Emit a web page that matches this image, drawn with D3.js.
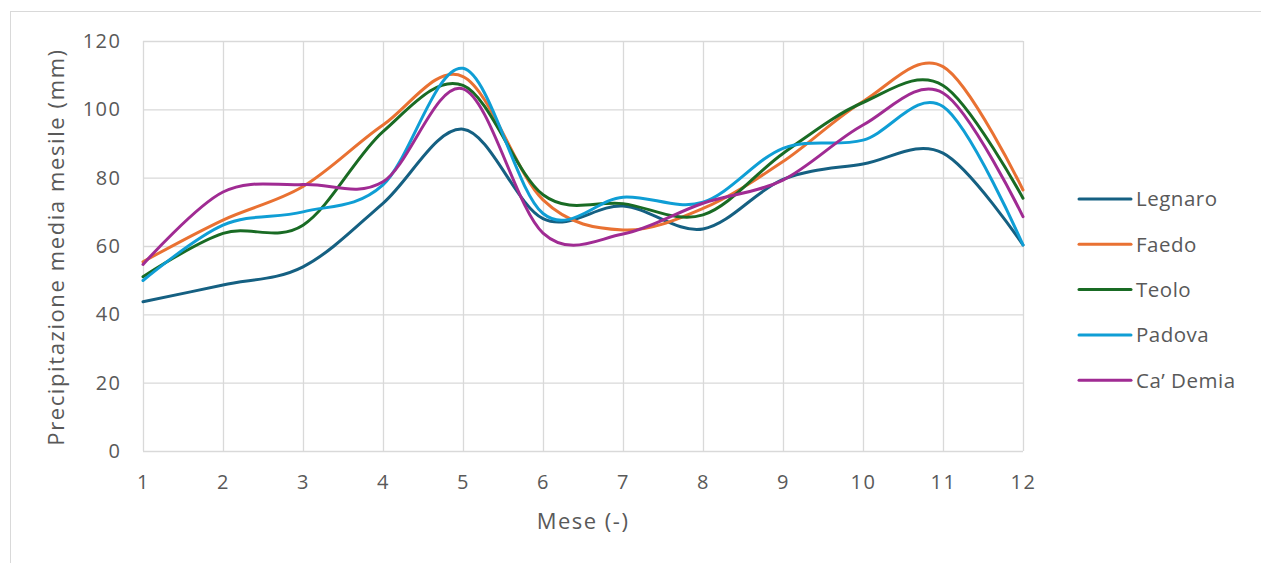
<!DOCTYPE html>
<html>
<head>
<meta charset="utf-8">
<script src="https://cdn.jsdelivr.net/npm/d3@7"></script>
<style>
  html, body { margin: 0; padding: 0; background: #fff; }
  svg { display: block; font-family: "Open Sans", "Noto Sans", sans-serif; }
</style>
</head>
<body>
<svg id="chart" width="1261" height="563"></svg>
<script>
// Average monthly precipitation (mm) per station
const months = [1, 2, 3, 4, 5, 6, 7, 8, 9, 10, 11, 12];
const stations = ["Legnaro", "Faedo", "Teolo", "Padova", "Ca\u2019 Demia"];
const legnaro = [43.7, 48.6, 53.9, 72.5, 94.2, 68.0, 71.7, 65.0, 79.5, 84.0, 87.2, 60.3];
const faedo   = [55.4, 67.6, 77.4, 95.4, 109.6, 73.5, 64.7, 71.0, 84.7, 102.3, 112.5, 76.4];
const teolo   = [51.0, 63.7, 66.1, 93.5, 107.0, 75.0, 72.4, 69.1, 87.1, 102.0, 107.0, 74.0];
const padova  = [49.9, 66.1, 70.0, 77.9, 112.0, 69.5, 74.3, 72.8, 88.6, 91.0, 100.8, 60.3];
const cademia = [54.6, 75.8, 78.0, 78.8, 106.0, 63.8, 63.5, 72.5, 79.3, 95.4, 104.8, 68.6];
const yTicks = [0, 20, 40, 60, 80, 100, 120];
const colors = ["#156082", "#E97132", "#196B24", "#0F9ED5", "#A02B93"];

const seriesValues = [legnaro, faedo, teolo, padova, cademia];

const svg = d3.select("#chart");
const W = 1261, H = 563;
const plot = { left: 143, right: 1023, top: 41, bottom: 451 };

// Outer chart frame
svg.append("rect")
  .attr("x", 10.5).attr("y", 11.5)
  .attr("width", W + 20).attr("height", H + 20)
  .attr("fill", "#fff").attr("stroke", "#d9d9d9").attr("stroke-width", 1);

const x = d3.scaleLinear().domain([1, 12]).range([plot.left, plot.right]);
const y = d3.scaleLinear().domain([0, 120]).range([plot.bottom, plot.top]);

const textColor = "#595959";
const gridColor = "#d9d9d9";

// Horizontal gridlines
svg.append("g")
  .attr("transform", `translate(${plot.left},0)`)
  .call(d3.axisLeft(y).tickValues(yTicks).tickSize(-(plot.right - plot.left)).tickFormat(""))
  .call(g => g.select(".domain").remove())
  .call(g => g.selectAll("line").attr("stroke", gridColor).attr("stroke-width", 1.3));

// Vertical gridlines
svg.append("g")
  .attr("transform", `translate(0,${plot.bottom})`)
  .call(d3.axisBottom(x).tickValues(months).tickSize(-(plot.bottom - plot.top)).tickFormat(""))
  .call(g => g.select(".domain").remove())
  .call(g => g.selectAll("line").attr("stroke", gridColor).attr("stroke-width", 1.3));

// Y tick labels
svg.append("g")
  .attr("transform", `translate(${plot.left},0)`)
  .call(d3.axisLeft(y).tickValues(yTicks).tickSize(0).tickPadding(21.5))
  .call(g => g.select(".domain").remove())
  .call(g => g.selectAll("text").attr("fill", textColor).style("font-size", "20px")
    .style("letter-spacing", "1.5px")
    .style("font-family", "'Open Sans', sans-serif"));

// X tick labels
svg.append("g")
  .attr("transform", `translate(0,${plot.bottom})`)
  .call(d3.axisBottom(x).tickValues(months).tickSize(0).tickPadding(24))
  .call(g => g.select(".domain").remove())
  .call(g => g.selectAll("text").attr("fill", textColor).style("font-size", "20px")
    .style("letter-spacing", "1.5px")
    .style("font-family", "'Open Sans', sans-serif"));

// Axis titles
svg.append("text")
  .attr("x", (plot.left + plot.right) / 2).attr("y", 529)
  .attr("text-anchor", "middle").attr("fill", textColor)
  .style("font-size", "22px").style("letter-spacing", "1.5px")
  .text("Mese (-)");

svg.append("text")
  .attr("transform", `translate(64,${(plot.top + plot.bottom) / 2 + 1}) rotate(-90)`)
  .attr("text-anchor", "middle").attr("fill", textColor)
  .style("font-size", "22px").style("letter-spacing", "1.6px")
  .text("Precipitazione media mesile (mm)");

// Smoothed series lines
const line = d3.line()
  .x((d, i) => x(months[i]))
  .y(d => y(d))
  .curve(d3.curveCatmullRom.alpha(0));

svg.append("g").selectAll("path")
  .data(seriesValues)
  .join("path")
  .attr("d", d => line(d))
  .attr("fill", "none")
  .attr("stroke", (d, i) => colors[i])
  .attr("stroke-width", 3)
  .attr("stroke-linecap", "round")
  .attr("stroke-linejoin", "round");

// Legend
const legend = svg.append("g").attr("transform", "translate(1079,199)");
const item = legend.selectAll("g")
  .data(stations)
  .join("g")
  .attr("transform", (d, i) => `translate(0,${i * 45.3})`);
item.append("line")
  .attr("x1", 0).attr("x2", 52).attr("y1", 0).attr("y2", 0)
  .attr("stroke", (d, i) => colors[i]).attr("stroke-width", 3)
  .attr("stroke-linecap", "round");
item.append("text")
  .attr("x", 57).attr("y", 0).attr("dy", "0.36em")
  .attr("fill", textColor).style("font-size", "20.5px")
  .style("letter-spacing", "0.5px")
  .text(d => d);
</script>
</body>
</html>
